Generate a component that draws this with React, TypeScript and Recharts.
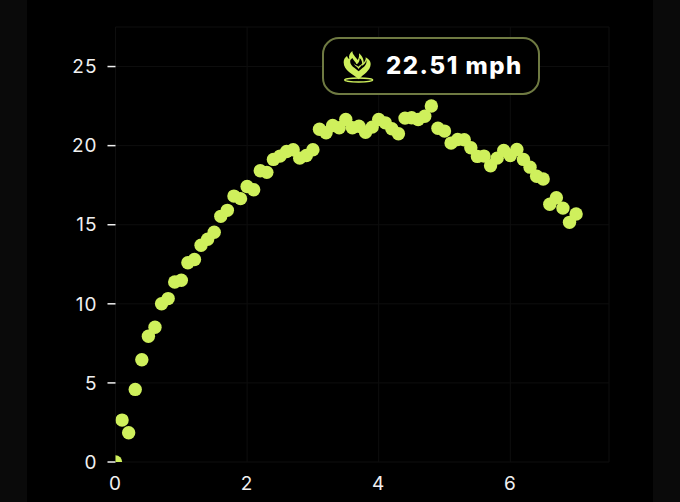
import { ScatterChart, Scatter, XAxis, YAxis, CartesianGrid } from "recharts";

const timeValues = [
  0, 0.1, 0.2, 0.3, 0.4, 0.5, 0.6, 0.7, 0.8, 0.9,
  1, 1.1, 1.2, 1.3, 1.4, 1.5, 1.6, 1.7, 1.8, 1.9,
  2, 2.1, 2.2, 2.3, 2.4, 2.5, 2.6, 2.7, 2.8, 2.9,
  3, 3.1, 3.2, 3.3, 3.4, 3.5, 3.6, 3.7, 3.8, 3.9,
  4, 4.1, 4.2, 4.3, 4.4, 4.5, 4.6, 4.7, 4.8, 4.9,
  5, 5.1, 5.2, 5.3, 5.4, 5.5, 5.6, 5.7, 5.8, 5.9,
  6, 6.1, 6.2, 6.3, 6.4, 6.5, 6.6, 6.7, 6.8, 6.9, 7,
];
const speedValues = [
  0, 2.65, 1.85, 4.59, 6.46, 7.95, 8.52, 10.0, 10.33, 11.38,
  11.49, 12.6, 12.8, 13.7, 14.08, 14.52, 15.53, 15.91, 16.81, 16.65,
  17.42, 17.21, 18.41, 18.31, 19.13, 19.34, 19.63, 19.74, 19.21, 19.38,
  19.74, 21.04, 20.81, 21.27, 21.13, 21.65, 21.13, 21.23, 20.85, 21.17,
  21.65, 21.44, 21.07, 20.75, 21.74, 21.76, 21.65, 21.86, 22.51, 21.1,
  20.92, 20.16, 20.39, 20.37, 19.87, 19.32, 19.34, 18.73, 19.21, 19.7,
  19.38, 19.76, 19.13, 18.64, 18.06, 17.89, 16.29, 16.71, 16.05, 15.15, 15.68,
];
const xTicks = [0, 2, 4, 6];
const yTicks = [0, 5, 10, 15, 20, 25];
const peakLabel = "22.51 mph";

const points = timeValues.map((t, i) => ({ t, speed: speedValues[i] }));

const LIME = "#CFF05C";
const FONT = "Inter, 'Noto Sans', sans-serif";

function Dot(props: any) {
  return <circle cx={props.cx} cy={props.cy} r={6.7} fill={LIME} />;
}

function FlameIcon() {
  return (
    <svg width={35} height={35} viewBox="125 85 105 105" style={{ position: "absolute", left: 18, top: 10 }}>
      <path
        d="M175 176 C158 160 130 150 130 125 C130 116 134 110 140 106 C142 112 144 114 147 115 C144 106 148 98 156 91 C156 102 166 108 172 118 C176 112 177 106 176 98 C188 108 190 118 190 126 C194 122 197 116 196 110 C206 116 211 122 211 130 C211 150 190 160 175 176 Z"
        fill={LIME}
      />
      <path d="M139 122 C141 138 160 146 175 162 C190 146 207 138 207 124" fill="none" stroke="#000" strokeWidth={0} />
      <path d="M150 118 C146 136 166 142 175 152 C184 142 202 136 198 118 C196 128 190 132 184 136 C188 126 184 118 178 112 C178 124 172 130 168 130 C166 124 160 120 156 112 C154 114 152 116 150 118 Z" fill="#000" />
      <path d="M160 128 C164 138 172 138 175 146 C178 138 186 136 186 128 C182 134 178 134 174 138 C170 134 164 134 160 128 Z" fill={LIME} />
      <ellipse cx={175} cy={178} rx={42} ry={6} fill="none" stroke={LIME} strokeWidth={4} />
    </svg>
  );
}

export default function App() {
  return (
    <div style={{ position: "absolute", left: 0, top: 0, width: 680, height: 502, background: "#000", overflow: "hidden" }}>
      <div style={{ position: "absolute", left: 0, top: 0, width: 27, height: 502, background: "#0A0A0A" }} />
      <div style={{ position: "absolute", left: 653, top: 0, width: 27, height: 502, background: "#0A0A0A" }} />
      <ScatterChart width={680} height={502} margin={{ top: 27, right: 71, bottom: 0, left: 0 }} style={{ position: "absolute", left: 0, top: 0 }}>
        <CartesianGrid stroke="#0E0E0E" strokeWidth={1} />
        <XAxis
          type="number"
          dataKey="t"
          domain={[0, 7.5]}
          ticks={xTicks}
          interval={0}
          height={40}
          allowDataOverflow
          axisLine={false}
          tickLine={false}
          tickMargin={9}
          tick={{ fill: "#F0F0F0", fontSize: 19, fontFamily: FONT, letterSpacing: 1 }}
        />
        <YAxis
          type="number"
          dataKey="speed"
          domain={[0, 27.5]}
          ticks={yTicks}
          interval={0}
          width={115.5}
          allowDataOverflow
          axisLine={false}
          tickLine={{ stroke: "#F0F0F0", strokeWidth: 1.5 }}
          tickSize={8}
          tickMargin={10}
          tick={{ fill: "#F0F0F0", fontSize: 19, fontFamily: FONT, letterSpacing: 1 }}
        />
        <Scatter data={points} shape={Dot} isAnimationActive={false} />
      </ScatterChart>
      <div
        style={{
          position: "absolute",
          left: 322,
          top: 37,
          width: 218,
          height: 58,
          boxSizing: "border-box",
          border: "2.5px solid #6F7A42",
          borderRadius: 17,
          background: "#000",
        }}
      >
        <FlameIcon />
        <div
          style={{
            position: "absolute",
            left: 62,
            top: 0,
            lineHeight: "53px",
            color: "#FFFFFF",
            fontFamily: FONT,
            fontWeight: 800,
            fontSize: 24,
            letterSpacing: 1.5,
            whiteSpace: "nowrap",
          }}
        >
          {peakLabel}
        </div>
      </div>
    </div>
  );
}
